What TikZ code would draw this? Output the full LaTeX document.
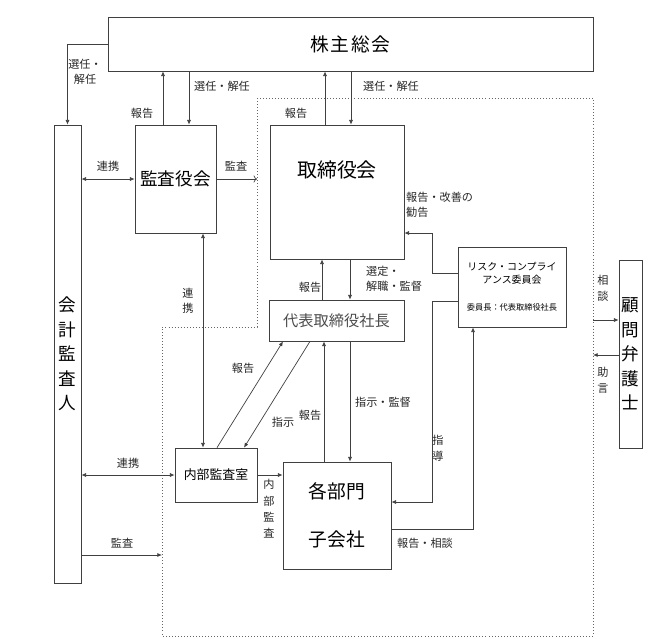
\documentclass[tikz,border=0pt]{standalone}
\usepackage{fontspec}
\setmainfont{Noto Sans CJK JP}
\usetikzlibrary{arrows.meta}

\begin{document}
\begin{tikzpicture}[x=0.03cm,y=-0.03cm,
    box/.style={draw=black!75,line width=0.6pt,inner sep=0pt},
    lbl/.style={inner sep=0pt,text=black!85,font=\fontsize{9.5}{12.5}\selectfont,align=center},
    arr/.style={draw=black!75,line width=0.6pt,-{Latex[length=4pt,width=3.4pt]}},
    darr/.style={draw=black!75,line width=0.6pt,{Latex[length=4pt,width=3.4pt]}-{Latex[length=4pt,width=3.4pt]}}]
    \useasboundingbox (0,0) rectangle (648,638);
    % dotted frame
    \coordinate (dtl) at (257,98);
    \coordinate (dtr) at (593,98);
    \coordinate (dbl) at (162,636);
    \draw[black!60,dotted,line width=0.6pt](dtl)--(dtr)--(593,636)--(dbl)--(162,327)--(257,327)--cycle;
    % boxes
    \node[box,minimum width=14.55cm,minimum height=1.62cm,font=\fontsize{16}{16}\selectfont\addfontfeature{LetterSpace=8}](soukai) at (350.5,44){株主総会};
    \node[box,minimum width=0.81cm,minimum height=13.74cm,align=center,font=\fontsize{15}{21}\selectfont](kaikei) at (67.5,354){会\\計\\監\\査\\人};
    \node[box,minimum width=2.43cm,minimum height=3.24cm,font=\fontsize{15}{15}\selectfont](kansayaku) at (175.5,179){監査役会};
    \node[box,minimum width=4.02cm,minimum height=4.02cm](torishimari) at (337,192){};
    \node[inner sep=0pt,font=\fontsize{17}{17}\selectfont](torilbl) at (337,170){取締役会};
    \node[box,minimum width=4.05cm,minimum height=1.23cm,text=black!70,font=\fontsize{13}{13}\selectfont](daihyo) at (336.5,320.5){代表取締役社長};
    \node[box,minimum width=3.24cm,minimum height=2.4cm,align=center,font=\fontsize{8.5}{11}\selectfont](risk) at (512,287){リスク・コンプライ\\アンス委員会\\[12pt]{\fontsize{7}{8}\selectfont 委員長：代表取締役社長}};
    \node[box,minimum width=0.69cm,minimum height=5.64cm,align=center,font=\fontsize{15}{21}\selectfont](komon) at (630.5,354){顧\\問\\弁\\護\\士};
    \node[box,minimum width=2.46cm,minimum height=1.62cm,font=\fontsize{11}{11}\selectfont](naibu) at (216,475){内部監査室};
    \node[box,minimum width=3.24cm,minimum height=3.21cm,align=center,font=\fontsize{16}{41}\selectfont](kakubumon) at (337,515.5){各部門\\子会社};
    % connectors
    \draw[arr](soukai.west)-|(kaikei.north);
    \draw[arr](163,0|-kansayaku.north)--(163,0|-soukai.south);
    \draw[arr](189,0|-soukai.south)--(189,0|-kansayaku.north);
    \draw[darr](kaikei.east|-kansayaku.west)--(kansayaku.west);
    \draw[draw=black!75,line width=0.6pt,->](kansayaku.east)--(kansayaku.east-|dtl);
    \draw[arr](325,0|-torishimari.north)--(325,0|-soukai.south);
    \draw[arr](351,0|-soukai.south)--(351,0|-torishimari.north);
    \draw[arr](322,0|-daihyo.north)--(322,0|-torishimari.south);
    \draw[arr](350,0|-torishimari.south)--(350,0|-daihyo.north);
    \draw[arr](risk.west|-0,273)-|(432,233)--(torishimari.east|-0,233);
    \draw[arr](risk.west|-0,301)-|(432,502)--(kakubumon.east|-0,502);
    \draw[arr](kakubumon.east|-0,529)-|(473,0|-risk.south);
    \draw[arr](dtr|-0,320)--(komon.west|-0,320);
    \draw[arr](komon.west|-0,355)--(dtr|-0,355);
    \draw[darr](203,0|-kansayaku.south)--(203,0|-naibu.north);
    \draw[darr](kaikei.east|-naibu.west)--(naibu.west);
    \draw[arr](kaikei.east|-0,555)--(dbl|-0,555);
    \draw[arr](217,0|-naibu.north)--(283,0|-daihyo.south);
    \draw[arr](310,0|-daihyo.south)--(244,0|-naibu.north);
    \draw[arr](naibu.east)--(naibu.east-|kakubumon.west);
    \draw[arr](324,0|-kakubumon.north)--(324,0|-daihyo.south);
    \draw[arr](350,0|-daihyo.south)--(350,0|-kakubumon.north);
    % labels
    \node[lbl](lSennin1) at (85,72){選任・\\解任};
    \node[lbl](lHoukoku1) at (142,113){報告};
    \node[lbl](lSennin2) at (222,86){選任・解任};
    \node[lbl](lRenkei1) at (108,166){連携};
    \node[lbl](lKansa1) at (236,166){監査};
    \node[lbl](lHoukoku2) at (296,113){報告};
    \node[lbl](lSennin3) at (391,86){選任・解任};
    \node[lbl,anchor=north west,align=left](lKankoku) at (406,192){報告・改善の\\勧告};
    \node[lbl](lHoukoku3) at (310,287){報告};
    \node[lbl,anchor=north west,align=left](lSentei) at (366,266){選定・\\解職・監督};
    \node[lbl,font=\fontsize{9.5}{14}\selectfont](lSoudan1) at (603,288){相\\談};
    \node[lbl,font=\fontsize{9.5}{14}\selectfont](lJogen) at (603,380){助\\言};
    \node[lbl,font=\fontsize{9.5}{13}\selectfont](lRenkei2) at (188,301){連\\携};
    \node[lbl](lRenkei3) at (128,463){連携};
    \node[lbl](lKansa2) at (122,543){監査};
    \node[lbl](lHoukoku4) at (243,368){報告};
    \node[lbl](lShiji) at (283,422){指示};
    \node[lbl](lHoukoku5) at (310,415){報告};
    \node[lbl](lShijiKantoku) at (383,402){指示・監督};
    \node[lbl,font=\fontsize{9.5}{14}\selectfont](lNaibu) at (269,509){内\\部\\監\\査};
    \node[lbl,font=\fontsize{9.5}{14}\selectfont](lShidou) at (438,448){指\\導};
    \node[lbl](lSoudan2) at (425,543){報告・相談};
\end{tikzpicture}
\end{document}
